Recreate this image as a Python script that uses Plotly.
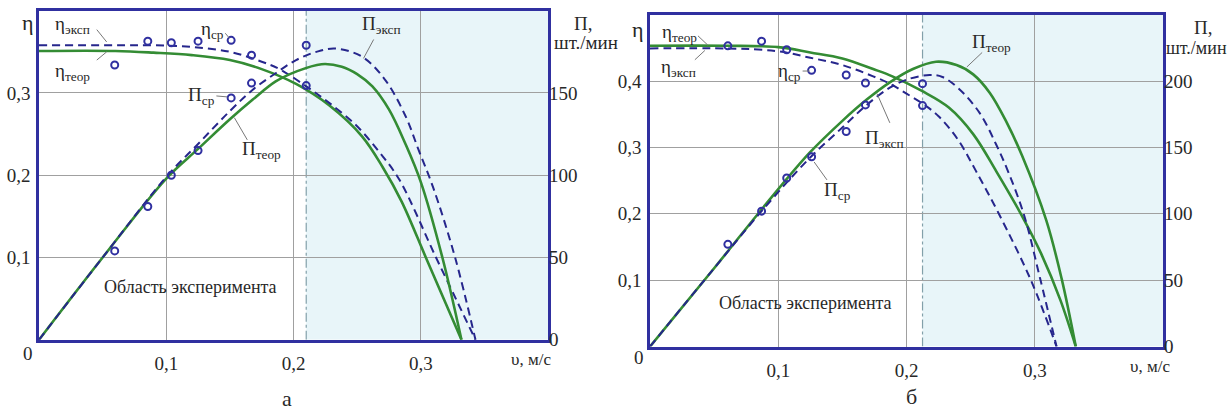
import plotly.graph_objects as go

# ---------------- Panel "а" data ----------------
a_eta_theor_v = [0, 0.06, 0.09, 0.12, 0.15, 0.175, 0.202, 0.228, 0.254, 0.27, 0.285, 0.304, 0.32, 0.332]
a_eta_theor = [0.351, 0.351, 0.349, 0.346, 0.340, 0.329, 0.311, 0.285, 0.247, 0.21, 0.168, 0.1, 0.043, 0]
a_eta_exp_v = [0, 0.06, 0.09, 0.12, 0.15, 0.175, 0.189, 0.21, 0.228, 0.249, 0.267, 0.283, 0.312, 0.33, 0.343]
a_eta_exp = [0.358, 0.358, 0.358, 0.356, 0.350, 0.338, 0.329, 0.308, 0.288, 0.261, 0.229, 0.195, 0.1, 0.042, 0]
a_P_theor_v = [0, 0.05, 0.1, 0.125, 0.15, 0.168, 0.186, 0.202, 0.222, 0.238, 0.25, 0.262, 0.275, 0.288, 0.300, 0.317, 0.332]
a_P_theor = [0, 50, 98, 116, 134, 146, 157, 163, 167.5, 166, 161.5, 154, 140, 119, 96, 50, 0]
a_P_exp_v = [0, 0.05, 0.1, 0.125, 0.15, 0.168, 0.186, 0.202, 0.218, 0.233, 0.254, 0.272, 0.288, 0.298, 0.31, 0.327, 0.343]
a_P_exp = [0, 50, 99, 119, 139, 152, 162, 170, 175, 177, 172, 158, 136, 116, 92, 50, 0]
a_pts_v = [0.0595, 0.0855, 0.104, 0.125, 0.151, 0.167, 0.21]
a_eta_avg = [0.334, 0.363, 0.361, 0.363, 0.364, 0.346, 0.309]
a_P_avg = [54, 81, 100, 115, 147, 156, 179]

# ---------------- Panel "б" data ----------------
b_eta_theor_v = [0, 0.06, 0.1, 0.125, 0.15, 0.174, 0.189, 0.212, 0.233, 0.252, 0.27, 0.29, 0.305, 0.32, 0.332]
b_eta_theor = [0.453, 0.453, 0.451, 0.443, 0.434, 0.418, 0.407, 0.385, 0.36, 0.32, 0.264, 0.197, 0.14, 0.07, 0]
b_eta_exp_v = [0, 0.06, 0.099, 0.125, 0.15, 0.174, 0.187, 0.2, 0.2125, 0.225, 0.24, 0.254, 0.272, 0.297, 0.317]
b_eta_exp = [0.449, 0.449, 0.445, 0.435, 0.424, 0.407, 0.396, 0.381, 0.366, 0.347, 0.312, 0.265, 0.2, 0.1, 0]
b_P_theor_v = [0, 0.05, 0.091, 0.1245, 0.15, 0.169, 0.187, 0.205, 0.223, 0.239, 0.252, 0.265, 0.278, 0.29, 0.309, 0.321, 0.332]
b_P_theor = [0, 59, 108, 146, 170, 186, 199, 209, 214.5, 212, 205, 191, 169, 144, 95, 51, 0]
b_P_exp_v = [0, 0.05, 0.087, 0.1245, 0.15, 0.169, 0.187, 0.2, 0.218, 0.228, 0.241, 0.257, 0.27, 0.28, 0.292, 0.304, 0.317]
b_P_exp = [0, 59, 102, 142, 165, 182, 195, 201, 204.5, 203, 194, 176, 152, 130, 98, 52, 0]
b_pts_v = [0.0607, 0.087, 0.1066, 0.126, 0.153, 0.168, 0.2125]
b_eta_avg = [0.453, 0.46, 0.447, 0.416, 0.409, 0.397, 0.363]
b_P_avg = [77, 102, 127, 143, 162, 182, 198]

x_ticks = [0.1, 0.2, 0.3]
x_ticktext = ["0,1", "0,2", "0,3"]
a_eta_ticks = [0.1, 0.2, 0.3]
a_eta_ticktext = ["0,1", "0,2", "0,3"]
b_eta_ticks = [0.1, 0.2, 0.3, 0.4]
b_eta_ticktext = ["0,1", "0,2", "0,3", "0,4"]
a_P_ticks = [0, 50, 100, 150]
b_P_ticks = [0, 50, 100, 150, 200]
exp_zone_start = [0.21, 0.2125]

# ---------------- styles ----------------
W, H = 1230, 416
FONT = "Liberation Serif, Times New Roman, DejaVu Serif, serif"
GREEN = "rgb(52,140,52)"
DBLUE = "rgb(38,38,140)"
FRAME = "rgb(48,48,160)"
GRID = "rgb(160,160,160)"
SHADE = "rgb(232,245,249)"
TXT = "rgb(40,40,40)"
DASH = "8px,5px"


def P(x, y):
    return x / W, 1 - y / H


fig = go.Figure()


def add_panel(xa, ya, ya2, ev_t, e_t, ev_e, e_e, pv_t, p_t, pv_e, p_e, pts_v, e_avg, p_avg):
    sm = 1.0
    fig.add_trace(go.Scatter(x=ev_t, y=e_t, xaxis=xa, yaxis=ya, mode="lines",
                             line=dict(color=GREEN, width=2.6, shape="spline", smoothing=sm)))
    fig.add_trace(go.Scatter(x=pv_t, y=p_t, xaxis=xa, yaxis=ya2, mode="lines",
                             line=dict(color=GREEN, width=2.6, shape="spline", smoothing=sm)))
    fig.add_trace(go.Scatter(x=ev_e, y=e_e, xaxis=xa, yaxis=ya, mode="lines",
                             line=dict(color=DBLUE, width=2, dash=DASH, shape="spline", smoothing=sm)))
    fig.add_trace(go.Scatter(x=pv_e, y=p_e, xaxis=xa, yaxis=ya2, mode="lines",
                             line=dict(color=DBLUE, width=2, dash=DASH, shape="spline", smoothing=sm)))
    fig.add_trace(go.Scatter(x=pts_v, y=e_avg, xaxis=xa, yaxis=ya, mode="markers",
                             marker=dict(symbol="circle-open", size=7, color=FRAME, line=dict(width=2, color=FRAME))))
    fig.add_trace(go.Scatter(x=pts_v, y=p_avg, xaxis=xa, yaxis=ya2, mode="markers",
                             marker=dict(symbol="circle-open", size=7, color=FRAME, line=dict(width=2, color=FRAME))))


add_panel("x", "y", "y2", a_eta_theor_v, a_eta_theor, a_eta_exp_v, a_eta_exp,
          a_P_theor_v, a_P_theor, a_P_exp_v, a_P_exp, a_pts_v, a_eta_avg, a_P_avg)
add_panel("x2", "y3", "y4", b_eta_theor_v, b_eta_theor, b_eta_exp_v, b_eta_exp,
          b_P_theor_v, b_P_theor, b_P_exp_v, b_P_exp, b_pts_v, b_eta_avg, b_P_avg)

tickfont = dict(family=FONT, size=19, color=TXT)


def xaxis(domain, anchor):
    return dict(domain=domain, anchor=anchor, range=[0, 0.4], tickvals=x_ticks, ticktext=x_ticktext,
                showgrid=True, gridcolor=GRID, gridwidth=1, zeroline=False, ticks="",
                ticklabelstandoff=5,
                showline=True, mirror=True, linecolor=FRAME, linewidth=2.5, tickfont=tickfont)


def yaxis(domain, anchor, rng, tv, tt):
    return dict(domain=domain, anchor=anchor, range=rng, tickvals=tv, ticktext=tt,
                showgrid=True, gridcolor=GRID, gridwidth=1, zeroline=False, ticks="",
                ticklabelstandoff=2,
                showline=True, mirror=True, linecolor=FRAME, linewidth=2.5, tickfont=tickfont)


def yaxis_r(over, anchor, rng, tv):
    return dict(overlaying=over, anchor=anchor, side="right", range=rng, tickvals=tv,
                showgrid=False, zeroline=False, showline=False, ticks="", tickfont=tickfont)


a_xd = [39 / W, 548 / W]
a_yd = [1 - 349 / H, 1 - 11 / H]
b_xd = [650 / W, 1163 / W]
b_yd = [1 - 356 / H, 1 - 15 / H]

shapes = []
for xr, yr, top, xs in (("x", "y", 0.4, exp_zone_start[0]), ("x2", "y3", 0.5, exp_zone_start[1])):
    shapes.append(dict(type="rect", xref=xr, yref=yr, x0=xs, x1=0.4, y0=0, y1=top,
                       fillcolor=SHADE, line=dict(width=0), layer="below"))
    shapes.append(dict(type="line", xref=xr, yref=yr, x0=xs, x1=xs, y0=0, y1=top,
                       line=dict(color="rgb(130,160,170)", width=1.2, dash="dashdot"), layer="below"))

# leader lines (label pointers)
leaders_a = [((0.0454, 0.377), (0.0532, 0.362)), ((0.0454, 0.340), (0.0532, 0.350)),
             ((0.1464, 0.3726), (0.1496, 0.3667)), ((0.1394, 0.2964), (0.148, 0.2952)),
             ((0.1637, 0.243), (0.1535, 0.270)), ((0.263, 0.365), (0.255, 0.342))]
leaders_b = [((0.0374, 0.468), (0.0451, 0.454)), ((0.035, 0.432), (0.0428, 0.446)),
             ((0.119, 0.415), (0.1245, 0.415)), ((0.187, 0.337), (0.177, 0.381)),
             ((0.138, 0.251), (0.128, 0.278)), ((0.259, 0.443), (0.247, 0.421))]
for xr, yr, lst in (("x", "y", leaders_a), ("x2", "y3", leaders_b)):
    for (x0, y0), (x1, y1) in lst:
        shapes.append(dict(type="line", xref=xr, yref=yr, x0=x0, y0=y0, x1=x1, y1=y1,
                           line=dict(color="rgb(120,120,120)", width=1), layer="above"))

ann = []


def A(xr, yr, x, y, text, size=19, xanchor="center"):
    ann.append(dict(xref=xr, yref=yr, x=x, y=y, text=text, showarrow=False, xanchor=xanchor,
                    yanchor="middle", font=dict(family=FONT, size=size, color=TXT)))


# panel a curve labels
A("x", "y", 0.026, 0.383, "η<sub>эксп</sub>")
A("x", "y", 0.026, 0.326, "η<sub>теор</sub>")
A("x", "y", 0.136, 0.376, "η<sub>ср</sub>")
A("x", "y", 0.128, 0.296, "П<sub>ср</sub>")
A("x", "y", 0.175, 0.231, "П<sub>теор</sub>")
A("x", "y", 0.269, 0.383, "П<sub>эксп</sub>")
A("x", "y", 0.119, 0.064, "Область эксперимента", size=18)
# panel b curve labels
A("x2", "y3", 0.0233, 0.472, "η<sub>теор</sub>")
A("x2", "y3", 0.0226, 0.419, "η<sub>эксп</sub>")
A("x2", "y3", 0.109, 0.413, "η<sub>ср</sub>")
A("x2", "y3", 0.183, 0.313, "П<sub>эксп</sub>")
A("x2", "y3", 0.146, 0.235, "П<sub>ср</sub>")
A("x2", "y3", 0.266, 0.457, "П<sub>теор</sub>")
A("x2", "y3", 0.121, 0.065, "Область эксперимента", size=18)

# axis titles and captions (paper coordinates)
for (px, py, t, s, xa) in [
    (28, 23, "η", 22, "center"), (638, 30, "η", 22, "center"),
    (583, 24, "П,", 19, "center"), (552, 44, "шт./мин", 19, "left"),
    (1203, 28, "П,", 19, "center"), (1229, 49, "шт./мин", 18, "right"),
    (531, 369, "υ, м/с", 17, "center"), (1150, 376, "υ, м/с", 17, "center"),
    (28, 363, "0", 19, "center"), (639, 367, "0", 19, "center"),
    (287, 409, "а", 22, "center"), (911, 407, "б", 22, "center"),
]:
    x, y = P(px, py)
    A("paper", "paper", x, y, t, size=s, xanchor=xa)

fig.update_layout(
    width=W, height=H, margin=dict(l=0, r=0, t=0, b=0),
    paper_bgcolor="white", plot_bgcolor="white", showlegend=False,
    font=dict(family=FONT, color=TXT),
    xaxis=xaxis(a_xd, "y"), yaxis=yaxis(a_yd, "x", [0, 0.4], a_eta_ticks, a_eta_ticktext),
    yaxis2=yaxis_r("y", "x", [0, 200], a_P_ticks),
    xaxis2=xaxis(b_xd, "y3"), yaxis3=yaxis(b_yd, "x2", [0, 0.5], b_eta_ticks, b_eta_ticktext),
    yaxis4=yaxis_r("y3", "x2", [0, 250], b_P_ticks),
    shapes=shapes, annotations=ann,
)

fig.write_html("out.html")
